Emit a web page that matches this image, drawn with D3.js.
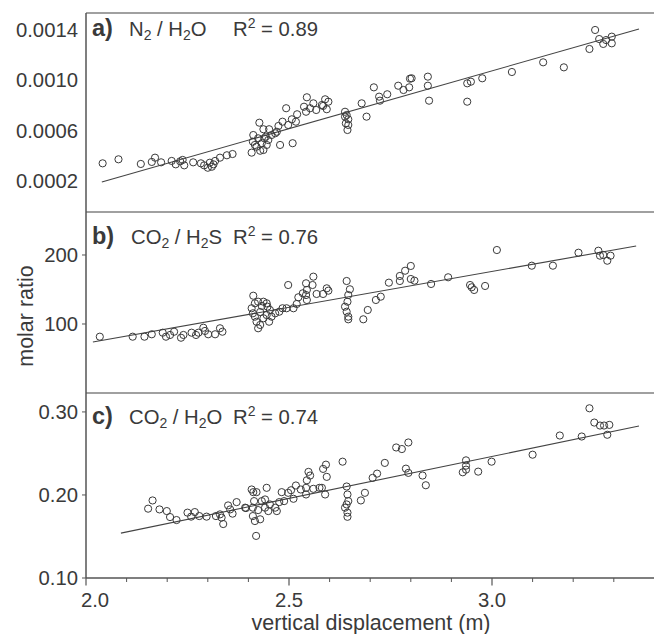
<!DOCTYPE html>
<html><head><meta charset="utf-8">
<script src="https://cdn.jsdelivr.net/npm/d3@7"></script>
<style>
body{margin:0;background:#fff;}
svg{display:block;}
text{font-family:"Liberation Sans",Arial,Helvetica,sans-serif;fill:#3a3a3a;}
</style>
</head><body>
<svg id="chart" width="654" height="634"></svg>
<script>
// ---------- DATA ----------
const xTickValues = [2.0, 2.5, 3.0];
const xTickLabels = ["2.0", "2.5", "3.0"];
const xMinorTicks = [2.1, 2.2, 2.3, 2.4, 2.6, 2.7, 2.8, 2.9, 3.1, 3.2, 3.3];

const aTickValues = [0.0002, 0.0006, 0.0010, 0.0014];
const aTickLabels = ["0.0002", "0.0006", "0.0010", "0.0014"];
const bTickValues = [100, 200];
const bTickLabels = ["100", "200"];
const cTickValues = [0.10, 0.20, 0.30];
const cTickLabels = ["0.10", "0.20", "0.30"];

const aR2 = "0.89", bR2 = "0.76", cR2 = "0.74";

// panel a: N2/H2O  [vertical displacement (m), molar ratio]
const n2h2o = [
 [2.041,0.000340],[2.080,0.000372],[2.135,0.000335],[2.162,0.000351],[2.170,0.000385],
 [2.185,0.000348],[2.211,0.000359],[2.221,0.000332],[2.232,0.000356],[2.238,0.000367],
 [2.242,0.000324],[2.264,0.000348],[2.283,0.000340],[2.291,0.000324],[2.300,0.000305],
 [2.305,0.000345],[2.310,0.000313],[2.314,0.000332],[2.318,0.000359],[2.330,0.000385],
 [2.347,0.000404],[2.361,0.000414],
 [2.408,0.000425],[2.411,0.000512],[2.412,0.000565],[2.416,0.000486],[2.424,0.000539],
 [2.427,0.000663],[2.437,0.000611],[2.433,0.000500],[2.437,0.000446],[2.443,0.000552],
 [2.445,0.000486],[2.451,0.000611],[2.457,0.000565],[2.470,0.000591],[2.474,0.000637],
 [2.478,0.000486],[2.484,0.000671],[2.493,0.000778],[2.498,0.000645],[2.509,0.000500],
 [2.507,0.000690],[2.517,0.000671],[2.520,0.000730],[2.537,0.000790],[2.544,0.000865],
 [2.542,0.000750],[2.552,0.000778],[2.560,0.000817],[2.567,0.000764],[2.581,0.000804],
 [2.589,0.000849],[2.593,0.000770],[2.597,0.000830],[2.420,0.000472],[2.429,0.000440],
 [2.439,0.000539],[2.466,0.000579],[2.449,0.000525],[2.584,0.000796],
 [2.638,0.000750],[2.642,0.000724],[2.646,0.000690],[2.640,0.000658],[2.644,0.000605],
 [2.646,0.000645],[2.638,0.000711],[2.679,0.000817],[2.691,0.000711],[2.709,0.000944],
 [2.722,0.000870],[2.724,0.000838],[2.742,0.000889],[2.769,0.000957],[2.782,0.000923],
 [2.796,0.000944],[2.798,0.001013],[2.802,0.001016],[2.842,0.001029],[2.842,0.000957],
 [2.845,0.000838],[2.939,0.000976],[2.948,0.000989],[2.939,0.000830],[2.976,0.001016],
 [3.049,0.001066],[3.126,0.001143],[3.177,0.001103],[3.240,0.001249],[3.254,0.001400],
 [3.264,0.001328],[3.274,0.001289],[3.281,0.001320],[3.295,0.001347],[3.295,0.001294]
];
const n2h2oFit = [[2.039,0.000192],[3.362,0.001408]];

// panel b: CO2/H2S
const co2h2s = [
 [2.034,81.6],[2.115,81.6],[2.144,81.6],[2.162,85.1],[2.189,87.4],[2.197,81.6],[2.207,84.1],
 [2.217,88.8],[2.234,80.1],[2.240,84.1],[2.260,87.4],[2.271,84.1],[2.277,87.4],[2.289,94.6],
 [2.293,89.9],[2.301,85.1],[2.318,85.1],[2.330,93.8],[2.336,88.8],
 [2.412,141.0],[2.408,122.8],[2.416,130.0],[2.424,132.3],[2.437,132.3],[2.445,130.0],
 [2.447,125.1],[2.411,115.5],[2.416,110.6],[2.420,103.3],[2.424,93.8],[2.429,98.6],
 [2.437,108.3],[2.445,113.0],[2.451,103.3],[2.457,110.6],[2.466,115.5],[2.476,117.8],
 [2.484,122.8],[2.494,122.8],[2.498,156.5],[2.511,122.8],[2.519,129.0],[2.523,138.7],
 [2.534,144.5],[2.542,159.0],[2.544,149.3],[2.542,142.0],[2.544,134.8],[2.558,156.5],
 [2.560,168.6],[2.568,143.5],[2.584,143.5],[2.593,151.7],[2.597,148.3],[2.433,126.1],
 [2.453,120.3],[2.429,117.4],
 [2.642,162.3],[2.650,150.3],[2.646,142.0],[2.644,132.3],[2.638,125.1],[2.642,117.8],
 [2.646,110.6],[2.646,106.8],[2.683,106.8],[2.694,120.3],[2.714,134.8],[2.726,139.6],
 [2.746,159.9],[2.773,162.3],[2.773,169.6],[2.786,177.2],[2.800,184.1],[2.800,165.2],
 [2.809,162.8],[2.850,158.0],[2.892,167.7],[2.946,156.5],[2.950,153.2],[2.956,149.3],
 [2.983,155.1],[3.012,207.2],[3.098,184.5],[3.150,184.5],[3.213,203.3],[3.262,206.2],
 [3.266,199.0],[3.274,200.0],[3.284,191.7],[3.292,199.0]
];
const co2h2sFit = [[2.017,74],[3.355,213]];

// panel c: CO2/H2O
const co2h2o = [
 [2.153,0.1835],[2.164,0.1934],[2.181,0.1826],[2.199,0.1806],[2.207,0.1734],[2.223,0.1698],
 [2.250,0.1787],[2.259,0.1739],[2.268,0.1794],[2.279,0.1746],[2.297,0.1739],[2.320,0.1746],
 [2.330,0.1766],[2.338,0.1650],[2.334,0.1727],[2.350,0.1874],[2.355,0.1826],[2.361,0.1775],
 [2.371,0.1914],[2.392,0.1847],
 [2.394,0.1842],[2.408,0.2066],[2.412,0.2034],[2.420,0.2034],[2.414,0.1926],[2.411,0.1847],
 [2.411,0.1746],[2.416,0.1686],[2.429,0.1707],[2.424,0.1818],[2.433,0.1926],[2.441,0.1946],
 [2.445,0.2086],[2.441,0.1847],[2.449,0.1806],[2.453,0.1886],[2.466,0.1847],[2.470,0.1806],
 [2.476,0.1914],[2.482,0.2034],[2.488,0.1926],[2.498,0.2026],[2.511,0.1954],[2.505,0.2057],
 [2.517,0.2114],[2.529,0.2066],[2.542,0.2006],[2.542,0.2086],[2.544,0.2177],[2.548,0.2278],
 [2.552,0.2234],[2.560,0.2074],[2.575,0.2086],[2.589,0.2006],[2.584,0.2314],[2.591,0.2365],
 [2.593,0.2218],[2.419,0.1507],[2.581,0.2086],[2.632,0.2401],
 [2.642,0.2102],[2.644,0.2006],[2.646,0.1926],[2.638,0.1847],[2.644,0.1787],[2.644,0.1737],
 [2.642,0.1886],[2.677,0.1934],[2.687,0.2026],[2.706,0.2206],[2.717,0.2257],[2.736,0.2386],
 [2.764,0.2572],[2.778,0.2553],[2.794,0.2632],[2.788,0.2317],[2.794,0.2266],[2.829,0.2234],
 [2.837,0.2117],[2.928,0.2273],[2.936,0.2417],[2.936,0.2353],[2.936,0.2305],[2.966,0.2281],
 [2.999,0.2401],[3.100,0.2485],[3.167,0.2716],[3.221,0.2704],[3.240,0.3044],[3.252,0.2872],
 [3.266,0.2836],[3.276,0.2836],[3.289,0.2844],[3.284,0.2725]
];
const co2h2oFit = [[2.086,0.154],[3.362,0.283]];

// ---------- LAYOUT ----------
const svg = d3.select("#chart");
const left = 86, right = 654.4, axisBottom = 578;
const x = d3.scaleLinear().domain([2.0, 3.4]).range([left, right]);

const panels = [
  {top:13, bottom:212, domain:[-0.0000469, 0.001535], tv:aTickValues, tl:aTickLabels, ticks:false,
   data:n2h2o, fit:n2h2oFit, letter:"a)", formula:[["N",0],["2",1],[" / H",0],["2",1],["O",0]], r2:aR2,
   titleY:36, formulaX:129},
  {top:212, bottom:393, domain:[0, 262.3], tv:bTickValues, tl:bTickLabels, ticks:true,
   data:co2h2s, fit:co2h2sFit, letter:"b)", formula:[["CO",0],["2",1],[" / H",0],["2",1],["S",0]], r2:bR2,
   titleY:244, formulaX:131},
  {top:393, bottom:578, domain:[0.10, 0.3228], tv:cTickValues, tl:cTickLabels, ticks:true,
   data:co2h2o, fit:co2h2oFit, letter:"c)", formula:[["CO",0],["2",1],[" / H",0],["2",1],["O",0]], r2:cR2,
   titleY:424, formulaX:129}
];

const FS = 20.3;

panels.forEach(p => {
  const y = d3.scaleLinear().domain(p.domain).range([p.bottom, p.top]);
  const g = svg.append("g");
  const clipId = "clip" + p.top;
  svg.append("clipPath").attr("id", clipId).append("rect")
    .attr("x", left).attr("y", p.top).attr("width", right - left).attr("height", p.bottom - p.top);

  // top border
  g.append("line").attr("x1", left).attr("x2", 654).attr("y1", p.top).attr("y2", p.top)
    .attr("stroke", "#808080").attr("stroke-width", 1.6);

  // y ticks and labels
  p.tv.forEach((v, i) => {
    const yy = y(v);
    if (p.ticks) {
      g.append("line").attr("x1", left - 4).attr("x2", left).attr("y1", yy).attr("y2", yy)
        .attr("stroke", "#555").attr("stroke-width", 1);
    }
    g.append("text").attr("x", 78).attr("y", yy).attr("dy", "0.35em")
      .attr("text-anchor", "end").attr("font-size", FS).text(p.tl[i]);
  });

  const pg = g.append("g").attr("clip-path", `url(#${clipId})`);
  // regression line
  pg.append("line")
    .attr("x1", x(p.fit[0][0])).attr("y1", y(p.fit[0][1]))
    .attr("x2", x(p.fit[1][0])).attr("y2", y(p.fit[1][1]))
    .attr("stroke", "#444").attr("stroke-width", 1.1);
  // points
  pg.selectAll("circle").data(p.data).enter().append("circle")
    .attr("cx", d => x(d[0])).attr("cy", d => y(d[1])).attr("r", 3.6)
    .attr("fill", "none").attr("stroke", "#3a3a3a").attr("stroke-width", 1);

  // titles
  g.append("text").attr("x", 92).attr("y", p.titleY).attr("font-size", 23.5)
    .attr("font-weight", "bold").text(p.letter);
  const ft = g.append("text").attr("x", p.formulaX).attr("y", p.titleY).attr("font-size", FS);
  let prev = 0;
  p.formula.forEach(([s, sub]) => {
    const dy = sub ? 4 : (prev ? -4 : 0);
    ft.append("tspan").attr("dy", dy).attr("font-size", sub ? 14 : FS).text(s);
    prev = sub;
  });
  const rt = g.append("text").attr("x", 233).attr("y", p.titleY).attr("font-size", FS);
  rt.append("tspan").text("R");
  rt.append("tspan").attr("dy", -8).attr("font-size", 14).text("2");
  rt.append("tspan").attr("dy", 8).text(" = " + p.r2);
});

// left axis line
svg.append("line").attr("x1", left).attr("x2", left).attr("y1", 13).attr("y2", axisBottom)
  .attr("stroke", "#555").attr("stroke-width", 1.5);
// bottom axis line
svg.append("line").attr("x1", left).attr("x2", 654).attr("y1", axisBottom).attr("y2", axisBottom)
  .attr("stroke", "#555").attr("stroke-width", 1.5);

// x ticks
xMinorTicks.forEach(v => {
  svg.append("line").attr("x1", x(v)).attr("x2", x(v)).attr("y1", axisBottom).attr("y2", axisBottom + 4)
    .attr("stroke", "#555").attr("stroke-width", 1);
});
xTickValues.forEach((v, i) => {
  svg.append("line").attr("x1", x(v)).attr("x2", x(v)).attr("y1", axisBottom).attr("y2", axisBottom + 7.5)
    .attr("stroke", "#555").attr("stroke-width", 1.2);
  svg.append("text").attr("x", x(v) + (i === 0 ? 9 : 0)).attr("y", 607)
    .attr("text-anchor", "middle").attr("font-size", FS).text(xTickLabels[i]);
});

// axis titles
svg.append("text").attr("x", 371).attr("y", 630).attr("text-anchor", "middle")
  .attr("font-size", 21.5).text("vertical displacement (m)");
svg.append("text").attr("transform", "translate(33,316) rotate(-90)").attr("text-anchor", "middle")
  .attr("font-size", 21.5).text("molar ratio");
</script>
</body></html>
